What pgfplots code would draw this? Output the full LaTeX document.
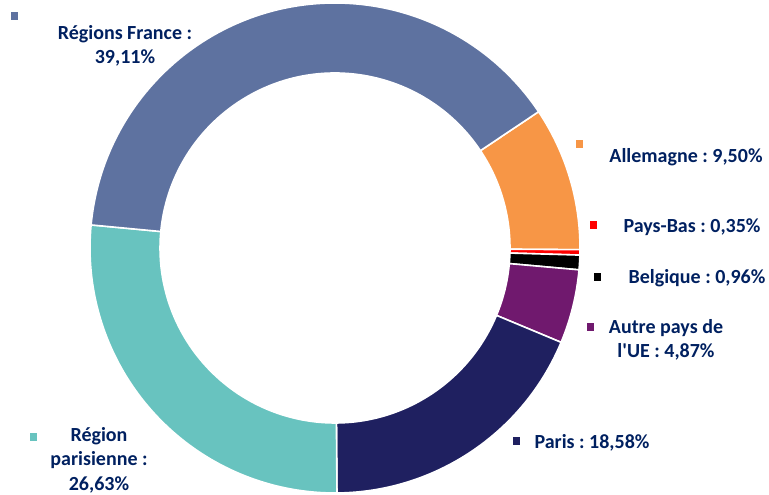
\documentclass[border=0pt]{standalone}
\usepackage{pgfplots}
\pgfplotsset{compat=1.18}
\usepackage{pgfplotstable}
\usepackage{fontspec}
\setmainfont{Carlito}[Ligatures=TeXOff]
\frenchspacing
\definecolor{txt}{HTML}{002060}
\definecolor{cAll}{HTML}{F79646}
\definecolor{cPB}{HTML}{FF0000}
\definecolor{cBe}{HTML}{000000}
\definecolor{cAu}{HTML}{70196E}
\definecolor{cPa}{HTML}{1F2060}
\definecolor{cRP}{HTML}{68C3BF}
\definecolor{cRF}{HTML}{5E72A0}

% values (percent), clockwise from the start angle
\pgfplotstableread{
name value
Allemagne 9.50
PaysBas 0.35
Belgique 0.96
Autre 4.87
Paris 18.58
RegionParisienne 26.63
RegionsFrance 39.11
}\shares

\def\startangle{33.8}
\pgfplotstablegetelem{0}{value}\of\shares \let\vA\pgfplotsretval
\pgfplotstablegetelem{1}{value}\of\shares \let\vB\pgfplotsretval
\pgfplotstablegetelem{2}{value}\of\shares \let\vC\pgfplotsretval
\pgfplotstablegetelem{3}{value}\of\shares \let\vD\pgfplotsretval
\pgfplotstablegetelem{4}{value}\of\shares \let\vE\pgfplotsretval
\pgfplotstablegetelem{5}{value}\of\shares \let\vF\pgfplotsretval
\pgfplotstablegetelem{6}{value}\of\shares \let\vG\pgfplotsretval
\pgfmathsetmacro\aA{\startangle}
\pgfmathsetmacro\aB{\aA-3.6*\vA}
\pgfmathsetmacro\aC{\aB-3.6*\vB}
\pgfmathsetmacro\aD{\aC-3.6*\vC}
\pgfmathsetmacro\aE{\aD-3.6*\vD}
\pgfmathsetmacro\aF{\aE-3.6*\vE}
\pgfmathsetmacro\aG{\aF-3.6*\vF}
\pgfmathsetmacro\aH{\aG-3.6*\vG}

\def\Ro{245}
\def\Ri{175}
\pgfmathsetmacro\Rd{\Ri-\Ro}
\newcommand\slice[3]{%
  \filldraw[fill=#3, draw=white, line width=1.6pt, line join=miter]
    (axis cs:335,247) ++(#1:\Ro pt) arc[start angle=#1, end angle=#2, radius=\Ro pt]
    -- ++(#2:\Rd pt) arc[start angle=#2, end angle=#1, radius=\Ri pt] -- cycle;}
\tikzset{lbl/.style={font=\fontsize{20}{24.5}\selectfont\bfseries, text=txt, align=center, inner sep=0pt}}

\begin{document}
\begin{tikzpicture}
\begin{axis}[
  name=ax,
  scale only axis, width=769pt, height=495pt,
  xmin=0, xmax=769, ymin=0, ymax=495,
  hide axis, clip=false,
]
\slice{\aA}{\aB}{cAll}
\slice{\aB}{\aC}{cPB}
\slice{\aC}{\aD}{cBe}
\slice{\aD}{\aE}{cAu}
\slice{\aE}{\aF}{cPa}
\slice{\aF}{\aG}{cRP}
\slice{\aG}{\aH}{cRF}

\addplot[only marks, mark=square*, mark size=3.3pt, color=cRF] coordinates {(14,479)};
\addplot[only marks, mark=square*, mark size=3.3pt, color=cAll] coordinates {(579,351)};
\addplot[only marks, mark=square*, mark size=3.3pt, color=cPB] coordinates {(593,270)};
\addplot[only marks, mark=square*, mark size=3.3pt, color=cBe] coordinates {(597,218)};
\addplot[only marks, mark=square*, mark size=3.3pt, color=cAu] coordinates {(590,168)};
\addplot[only marks, mark=square*, mark size=3.3pt, color=cPa] coordinates {(516,54)};
\addplot[only marks, mark=square*, mark size=3.3pt, color=cRP] coordinates {(33,58)};

\node[lbl] at (axis cs:125,449) {Régions France :\\39,11\%};
\node[lbl] at (axis cs:686,338) {Allemagne : 9,50\%};
\node[lbl] at (axis cs:692,268) {Pays-Bas : 0,35\%};
\node[lbl] at (axis cs:697,217) {Belgique : 0,96\%};
\node[lbl] at (axis cs:666,155) {Autre pays de\\l'UE : 4,87\%};
\node[lbl] at (axis cs:592,52) {Paris : 18,58\%};
\node[lbl] at (axis cs:99,35) {Région\\parisienne :\\26,63\%};
\end{axis}
\pgfresetboundingbox
\path[use as bounding box] (ax.south west) rectangle (ax.north east);
\end{tikzpicture}
\end{document}
